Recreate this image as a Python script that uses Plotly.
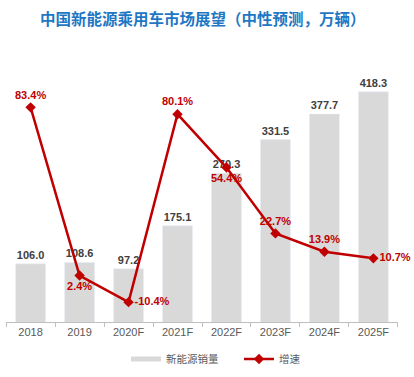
import plotly.graph_objects as go

categories = ["2018", "2019", "2020F", "2021F", "2022F", "2023F", "2024F", "2025F"]
sales = [106.0, 108.6, 97.2, 175.1, 270.3, 331.5, 377.7, 418.3]
growth = [83.4, 2.4, -10.4, 80.1, 54.4, 22.7, 13.9, 10.7]
growth_pos = ["top center", "bottom center", "middle right", "top center",
              "bottom center", "top center", "top center", "middle right"]

RED = "#C00000"
GRAY = "#D9D9D9"
FONT = "Liberation Sans, Arial, Noto Sans CJK SC, sans-serif"

fig = go.Figure()
fig.add_trace(go.Bar(
    x=categories, y=sales, name="新能源销量", marker_color=GRAY, width=0.61,
    text=[f"{v:.1f}" for v in sales], textposition="outside",
    textfont=dict(color="#404040", size=11, family=FONT, weight="bold"),
    cliponaxis=False, showlegend=False,
))
fig.add_trace(go.Scatter(
    x=[None], y=[None], mode="lines", name="新能源销量",
    line=dict(color=GRAY, width=5), showlegend=True,
))
fig.add_trace(go.Scatter(
    x=categories, y=growth, name="增速", yaxis="y2", mode="lines+markers+text",
    line=dict(color=RED, width=2.5),
    marker=dict(symbol="diamond", size=8, color=RED),
    text=[f"{v:.1f}%" for v in growth], textposition=growth_pos,
    textfont=dict(color=RED, size=11, family=FONT, weight="bold"),
    cliponaxis=False,
))

fig.update_layout(
    width=414, height=377,
    margin=dict(l=6, r=16, t=50, b=53),
    paper_bgcolor="white", plot_bgcolor="white",
    title=dict(text="中国新能源乘用车市场展望（中性预测，万辆）",
               x=0.49, xanchor="center", y=0.947, yanchor="middle",
               font=dict(family="Noto Sans CJK SC", size=15.5, color="#1F77C4", weight="bold")),
    xaxis=dict(showline=True, linecolor="#BFBFBF", linewidth=1,
               ticks="outside", ticklen=4, tickcolor="#BFBFBF", tickson="boundaries",
               tickfont=dict(family=FONT, size=11, color="#595959"),
               showgrid=False, fixedrange=True),
    yaxis=dict(range=[0, 494], visible=False, showgrid=False),
    yaxis2=dict(range=[-20.1, 111], overlaying="y", visible=False, showgrid=False),
    legend=dict(orientation="h", xref="container", yref="container",
                x=126 / 414, xanchor="left", y=(377 - 359) / 377, yanchor="middle",
                font=dict(family="Noto Sans CJK SC", size=10.5, color="#595959"),
                itemwidth=30, entrywidth=68),
    showlegend=True,
    bargap=0.39,
)

fig.write_html("out.html", config={"displayModeBar": False},
               post_script="document.body.style.margin='0';")
